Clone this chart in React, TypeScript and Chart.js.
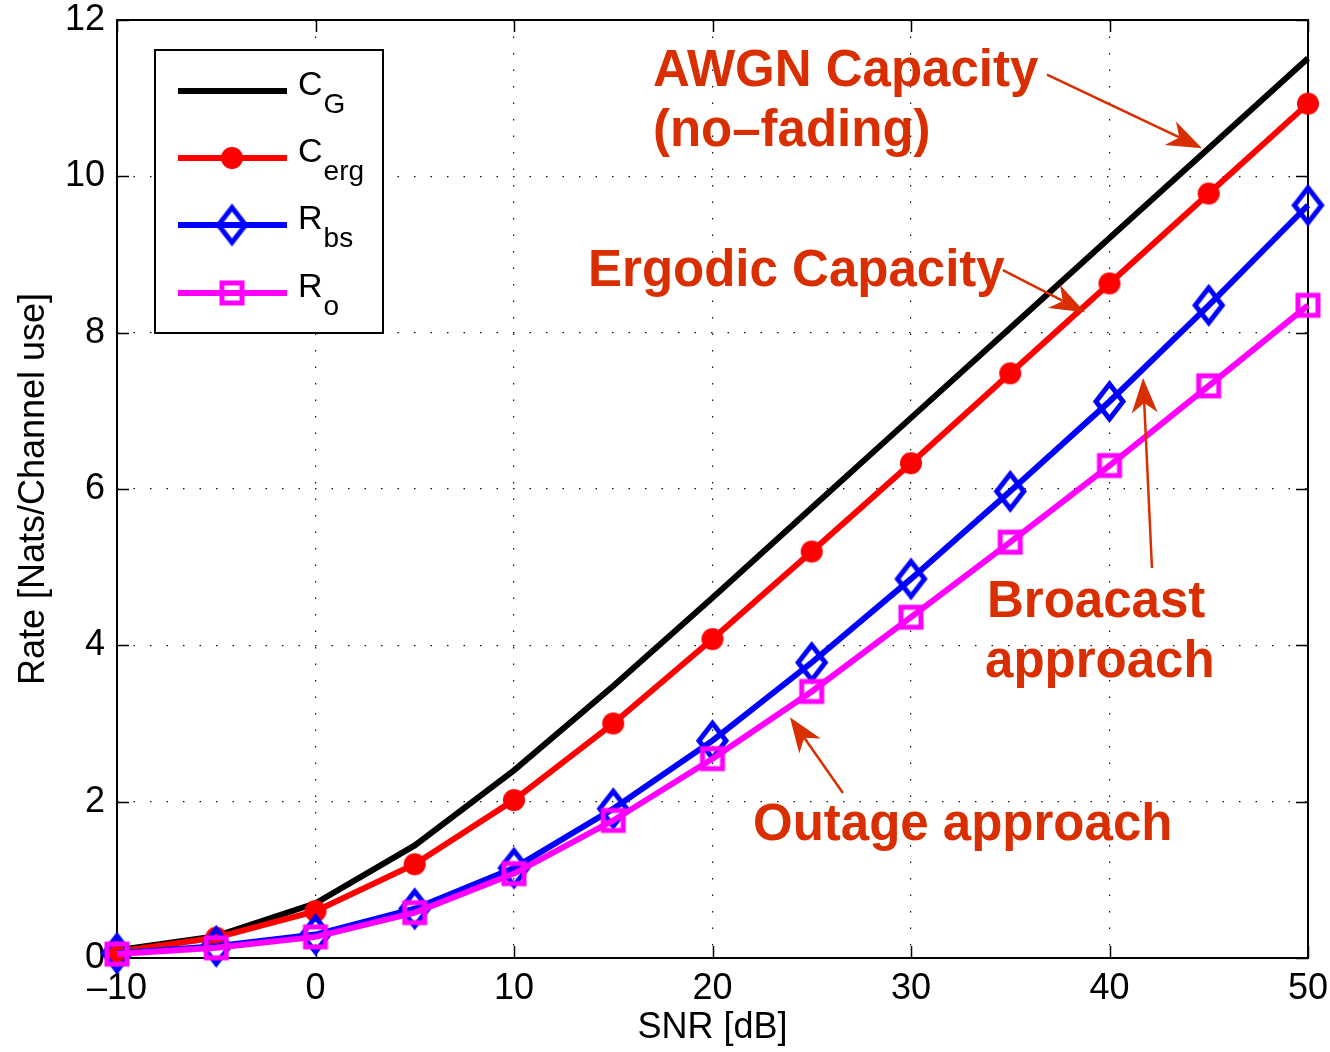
import React, { useEffect, useRef } from "react";
import { Chart, registerables } from "chart.js";

Chart.register(...registerables);

// ---- data ----
const snrDb = [-10, -5, 0, 5, 10, 15, 20, 25, 30, 35, 40, 45, 50];
const capAwgn = [0.10, 0.28, 0.70, 1.44, 2.40, 3.48, 4.61, 5.76, 6.91, 8.06, 9.21, 10.36, 11.51];
const capErgodic = [0.08, 0.26, 0.60, 1.20, 2.02, 3.00, 4.08, 5.20, 6.33, 7.48, 8.63, 9.78, 10.93];
const rateBroadcast = [0.06, 0.15, 0.30, 0.63, 1.15, 1.91, 2.78, 3.78, 4.85, 5.97, 7.12, 8.35, 9.63];
const rateOutage = [0.05, 0.13, 0.27, 0.58, 1.08, 1.76, 2.55, 3.41, 4.36, 5.32, 6.30, 7.32, 8.35];

const xTicks = [-10, 0, 10, 20, 30, 40, 50];
const yTicks = [0, 2, 4, 6, 8, 10, 12];

const legendMain = ["C", "C", "R", "R"];
const legendSub = ["G", "erg", "bs", "o"];

// annotation texts (data coordinates of text start / arrow tail & tip)
const noteLines = [
  { text: "AWGN Capacity", x: 17.0, y: 11.15 },
  { text: "(no\u2013fading)", x: 17.0, y: 10.39 },
  { text: "Ergodic Capacity", x: 13.73, y: 8.60 },
  { text: "Broacast", x: 33.83, y: 4.36 },
  { text: "approach", x: 33.73, y: 3.59 },
  { text: "Outage approach", x: 22.04, y: 1.51 },
];
const noteArrows = [
  { x0: 36.85, y0: 11.30, x1: 44.66, y1: 10.36 },
  { x0: 34.63, y0: 8.80, x1: 38.77, y1: 8.26 },
  { x0: 42.14, y0: 4.99, x1: 41.69, y1: 7.42 },
  { x0: 26.57, y0: 2.11, x1: 23.90, y1: 3.08 },
];

const FONT = "'Liberation Sans', Arial, Helvetica, sans-serif";
const NOTE_COLOR = "#D92E00";

function makeDiamond(color: string, w: number, h: number, lw: number) {
  const c = document.createElement("canvas");
  c.width = Math.ceil(w + lw * 2);
  c.height = Math.ceil(h + lw * 2);
  const ctx = c.getContext("2d")!;
  const cx = c.width / 2, cy = c.height / 2;
  ctx.strokeStyle = color;
  ctx.lineWidth = lw;
  ctx.lineJoin = "miter";
  ctx.beginPath();
  ctx.moveTo(cx, cy - h / 2);
  ctx.lineTo(cx + w / 2, cy);
  ctx.lineTo(cx, cy + h / 2);
  ctx.lineTo(cx - w / 2, cy);
  ctx.closePath();
  ctx.stroke();
  return c;
}

function makeSquare(color: string, s: number, lw: number) {
  const c = document.createElement("canvas");
  c.width = Math.ceil(s + lw * 2);
  c.height = Math.ceil(s + lw * 2);
  const ctx = c.getContext("2d")!;
  const cx = c.width / 2, cy = c.height / 2;
  ctx.strokeStyle = color;
  ctx.lineWidth = lw;
  ctx.strokeRect(cx - s / 2, cy - s / 2, s, s);
  return c;
}

function makeDot(color: string, r: number) {
  const c = document.createElement("canvas");
  c.width = Math.ceil(r * 2 + 2);
  c.height = Math.ceil(r * 2 + 2);
  const ctx = c.getContext("2d")!;
  ctx.fillStyle = color;
  ctx.beginPath();
  ctx.arc(c.width / 2, c.height / 2, r, 0, Math.PI * 2);
  ctx.fill();
  return c;
}

export default function App() {
  const ref = useRef<HTMLCanvasElement | null>(null);

  useEffect(() => {
    const canvas = ref.current;
    if (!canvas) return;

    const dotImg = makeDot("#FF0000", 11);
    const diamondImg = makeDiamond("#0000FF", 27, 35, 5);
    const squareImg = makeSquare("#FF00FF", 20, 5);

    const markers: (HTMLCanvasElement | null)[] = [null, dotImg, diamondImg, squareImg];

    const boxPlugin = {
      id: "matlabBox",
      beforeDatasetsDraw(chart: any) {
        const { ctx, chartArea: a } = chart;
        const xs = chart.scales.x;
        const ys = chart.scales.y;
        ctx.save();
        ctx.strokeStyle = "#000";
        ctx.lineWidth = 2;
        ctx.strokeRect(a.left, a.top, a.right - a.left, a.bottom - a.top);
        ctx.lineWidth = 1.5;
        const tl = 12;
        ctx.beginPath();
        xTicks.forEach((v) => {
          const px = Math.round(xs.getPixelForValue(v)) + 0.5;
          ctx.moveTo(px, a.bottom);
          ctx.lineTo(px, a.bottom - tl);
          ctx.moveTo(px, a.top);
          ctx.lineTo(px, a.top + tl);
        });
        yTicks.forEach((v) => {
          const py = Math.round(ys.getPixelForValue(v)) + 0.5;
          ctx.moveTo(a.left, py);
          ctx.lineTo(a.left + tl, py);
          ctx.moveTo(a.right, py);
          ctx.lineTo(a.right - tl, py);
        });
        ctx.stroke();
        ctx.restore();
      },
      afterDatasetsDraw(chart: any) {
        const { ctx } = chart;
        const xs = chart.scales.x;
        const ys = chart.scales.y;
        ctx.save();
        // annotation texts
        ctx.fillStyle = NOTE_COLOR;
        ctx.font = `bold 51px ${FONT}`;
        ctx.textAlign = "left";
        ctx.textBaseline = "alphabetic";
        noteLines.forEach((n) => {
          ctx.fillText(n.text, xs.getPixelForValue(n.x), ys.getPixelForValue(n.y));
        });
        // arrows
        noteArrows.forEach((ar) => {
          const x0 = xs.getPixelForValue(ar.x0), y0 = ys.getPixelForValue(ar.y0);
          const x1 = xs.getPixelForValue(ar.x1), y1 = ys.getPixelForValue(ar.y1);
          const ang = Math.atan2(y1 - y0, x1 - x0);
          const L = 35, W = 13, N = 25;
          const ux = Math.cos(ang), uy = Math.sin(ang);
          const nx = -uy, ny = ux;
          ctx.strokeStyle = NOTE_COLOR;
          ctx.lineWidth = 2.5;
          ctx.beginPath();
          ctx.moveTo(x0, y0);
          ctx.lineTo(x1 - ux * N, y1 - uy * N);
          ctx.stroke();
          ctx.beginPath();
          ctx.moveTo(x1, y1);
          ctx.lineTo(x1 - ux * L + nx * W, y1 - uy * L + ny * W);
          ctx.lineTo(x1 - ux * N, y1 - uy * N);
          ctx.lineTo(x1 - ux * L - nx * W, y1 - uy * L - ny * W);
          ctx.closePath();
          ctx.fillStyle = NOTE_COLOR;
          ctx.fill();
        });
        // legend
        const lx = 155, ly = 50, lw = 228, lh = 283;
        ctx.fillStyle = "#fff";
        ctx.fillRect(lx, ly, lw, lh);
        ctx.strokeStyle = "#000";
        ctx.lineWidth = 2;
        ctx.strokeRect(lx, ly, lw, lh);
        const rowY = [91, 158, 225, 293];
        chart.data.datasets.forEach((ds: any, i: number) => {
          const y = rowY[i];
          ctx.strokeStyle = ds.borderColor;
          ctx.lineWidth = ds.borderWidth;
          ctx.beginPath();
          ctx.moveTo(178, y);
          ctx.lineTo(287, y);
          ctx.stroke();
          const m = markers[i];
          if (m) ctx.drawImage(m, 232 - m.width / 2, y - m.height / 2);
          ctx.fillStyle = "#000";
          ctx.font = `34px ${FONT}`;
          ctx.textBaseline = "alphabetic";
          ctx.fillText(legendMain[i], 298, y + 4);
          const w = ctx.measureText(legendMain[i]).width;
          ctx.font = `28px ${FONT}`;
          ctx.fillText(legendSub[i], 298 + w + 1, y + 22);
        });
        ctx.restore();
      },
    };

    const mk = (label: string, data: number[], color: string, order: number, marker: any) => ({
      label,
      data: snrDb.map((x, i) => ({ x, y: data[i] })),
      borderColor: color,
      backgroundColor: color,
      borderWidth: 6,
      pointStyle: marker || "circle",
      pointRadius: marker ? 10 : 0,
      pointHoverRadius: marker ? 10 : 0,
      tension: 0,
      clip: false as any,
      order,
    });

    const zeroPad = (s: any) => {
      s.paddingTop = 0;
      s.paddingBottom = 0;
      s.paddingLeft = 0;
      s.paddingRight = 0;
    };

    const chart = new Chart(canvas, {
      type: "line",
      data: {
        datasets: [
          mk("C_G", capAwgn, "#000000", 4, null),
          mk("C_erg", capErgodic, "#FF0000", 3, dotImg),
          mk("R_bs", rateBroadcast, "#0000FF", 2, diamondImg),
          mk("R_o", rateOutage, "#FF00FF", 1, squareImg),
        ],
      },
      options: {
        responsive: false,
        animation: false,
        devicePixelRatio: 1,
        layout: { padding: { left: 0, top: 20, right: 22, bottom: 0 } },
        plugins: {
          legend: { display: false },
          tooltip: { enabled: false },
        },
        scales: {
          x: {
            type: "linear",
            min: -10,
            max: 50,
            afterBuildTicks: (s: any) => {
              s.ticks = xTicks.map((v) => ({ value: v }));
            },
            afterFit: (s: any) => {
              s.height = 94;
              zeroPad(s);
            },
            ticks: {
              color: "#000",
              font: { family: FONT, size: 36 },
              padding: 9,
              maxRotation: 0,
              autoSkip: false,
              callback: (v: any) => (v < 0 ? "\u2013" + Math.abs(v) : String(v)),
            },
            grid: {
              color: "#111",
              lineWidth: 1.2,
              drawTicks: false,
            },
            border: { display: false, dash: [1.5, 15] },
            title: {
              display: true,
              text: "SNR [dB]",
              color: "#000",
              font: { family: FONT, size: 36 },
              padding: { top: 0, bottom: 2 },
            },
          },
          y: {
            type: "linear",
            min: 0,
            max: 12,
            afterBuildTicks: (s: any) => {
              s.ticks = yTicks.map((v) => ({ value: v }));
            },
            afterFit: (s: any) => {
              s.width = 117;
              zeroPad(s);
            },
            ticks: {
              color: "#000",
              font: { family: FONT, size: 36 },
              padding: 12,
              autoSkip: false,
            },
            grid: {
              color: "#111",
              lineWidth: 1.2,
              drawTicks: false,
            },
            border: { display: false, dash: [1.5, 15] },
            title: {
              display: true,
              text: "Rate [Nats/Channel use]",
              color: "#000",
              font: { family: FONT, size: 36 },
              padding: { top: 12, bottom: 0 },
            },
          },
        },
      },
      plugins: [boxPlugin],
    });

    return () => chart.destroy();
  }, []);

  return (
    <div style={{ position: "absolute", left: 0, top: 0, width: 1330, height: 1052, background: "#fff" }}>
      <canvas ref={ref} width={1330} height={1052} style={{ display: "block" }} />
    </div>
  );
}
